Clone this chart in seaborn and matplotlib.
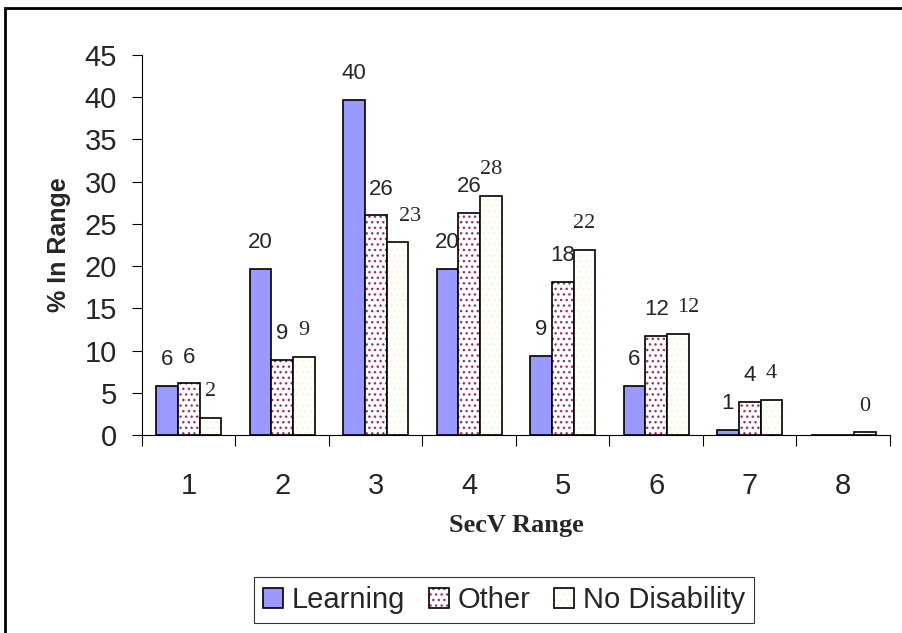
import numpy as np
import pandas as pd
import seaborn as sns
import matplotlib
matplotlib.use('Agg')
import matplotlib.pyplot as plt
from matplotlib.colors import to_rgba
from matplotlib.patches import Rectangle, Patch

# Chart data
ranges = ['1', '2', '3', '4', '5', '6', '7', '8']
groups = ['Learning', 'Other', 'No Disability']
learning = [5.8, 19.7, 39.7, 19.7, 9.4, 5.8, 0.6, 0.0]
other = [6.1, 8.9, 26.0, 26.3, 18.1, 11.7, 3.9, 0.0]
no_disability = [2.0, 9.2, 22.8, 28.3, 21.9, 12.0, 4.2, 0.3]
y_ticks = [0, 5, 10, 15, 20, 25, 30, 35, 40, 45]

df = pd.DataFrame({
    'range': ranges * 3,
    'pct': learning + other + no_disability,
    'group': [g for g in groups for _ in ranges],
})

sans = 'Liberation Sans'
serif = 'Liberation Serif'

sns.set_style('white')
plt.rcParams['font.family'] = [sans, 'DejaVu Sans']
plt.rcParams['hatch.linewidth'] = 1.0

fig = plt.figure(figsize=(9.03, 6.33), dpi=100)
ax = fig.add_axes([142 / 903, 1 - 435 / 633, 748 / 903, 380 / 633])

palette = {'Learning': '#9999FF', 'Other': 'white', 'No Disability': 'white'}
sns.barplot(data=df, x='range', y='pct', hue='group', order=ranges,
            hue_order=groups, palette=palette, width=0.7, gap=0,
            edgecolor='black', linewidth=1.2, saturation=1, ax=ax,
            legend=False)

# Dotted fills: hatch colour differs from the black outline
dot_colors = {'Other': '#993366', 'No Disability': '#F7F7D2'}
hatch = '...'


def add_dots(patch, grp):
    if grp in dot_colors:
        patch.set_hatch(hatch)
        patch._hatch_color = to_rgba(dot_colors[grp])
        patch.stale = True


for container, grp in zip(ax.containers, groups):
    for bar in container:
        add_dots(bar, grp)

# Value labels above the bars (a few are pushed sideways, as in Excel)
label_font = {'Learning': sans, 'Other': sans, 'No Disability': serif}
nudge = {('Other', 2): 4, ('No Disability', 2): 9, ('No Disability', 5): 7}
for container, grp in zip(ax.containers, groups):
    for i, bar in enumerate(container):
        h = bar.get_height()
        if grp != 'No Disability' and h == 0:
            continue
        ax.annotate(f'{h:.0f}', (bar.get_x() + bar.get_width() / 2, h),
                    xytext=(nudge.get((grp, i), 0), 19),
                    textcoords='offset points', ha='center', va='center',
                    fontsize=16, family=label_font[grp], clip_on=False)

# Axes styling
ax.set_ylim(0, 45)
ax.set_xlim(-0.5, len(ranges) - 0.5)
ax.set_yticks(y_ticks)
ax.tick_params(axis='y', which='major', direction='out', length=7,
               width=0.8, left=True, labelsize=21, pad=11, color='black')
ax.set_xticks(np.arange(-0.5, len(ranges), 1))
ax.set_xticklabels([])
ax.set_xticks(np.arange(len(ranges)), minor=True)
ax.set_xticklabels(ranges, minor=True)
ax.tick_params(axis='x', which='major', direction='out', length=8,
               width=0.8, bottom=True, color='black')
ax.tick_params(axis='x', which='minor', length=0, labelsize=21, pad=27)
for side in ['top', 'right']:
    ax.spines[side].set_visible(False)
for side in ['left', 'bottom']:
    ax.spines[side].set_color('black')
    ax.spines[side].set_linewidth(0.8)

ax.set_ylabel('% In Range', fontsize=18, fontweight='bold', labelpad=10)
ax.set_xlabel('SecV Range', fontsize=19, fontweight='bold', family=serif,
              labelpad=10)

handles = []
for grp in groups:
    h = Patch(facecolor=palette[grp], edgecolor='black', linewidth=1.2,
              label=grp)
    add_dots(h, grp)
    handles.append(h)
leg = ax.legend(handles=handles, loc='center', ncol=3,
                bbox_to_anchor=(504 / 903, 1 - 600 / 633),
                bbox_transform=fig.transFigure, fontsize=21, frameon=True,
                fancybox=False, edgecolor='black', handlelength=0.7,
                handleheight=0.7, handletextpad=0.3, columnspacing=0.8,
                borderpad=0.3)
leg.get_frame().set_linewidth(0.8)

# Border around the whole chart (runs off the right and bottom edges)
fig.patches.append(Rectangle((5 / 903, -0.2), 1.2, 1.2 - 8 / 633,
                             transform=fig.transFigure, fill=False,
                             edgecolor='black', linewidth=2))

fig.savefig('out.png', dpi=100)
